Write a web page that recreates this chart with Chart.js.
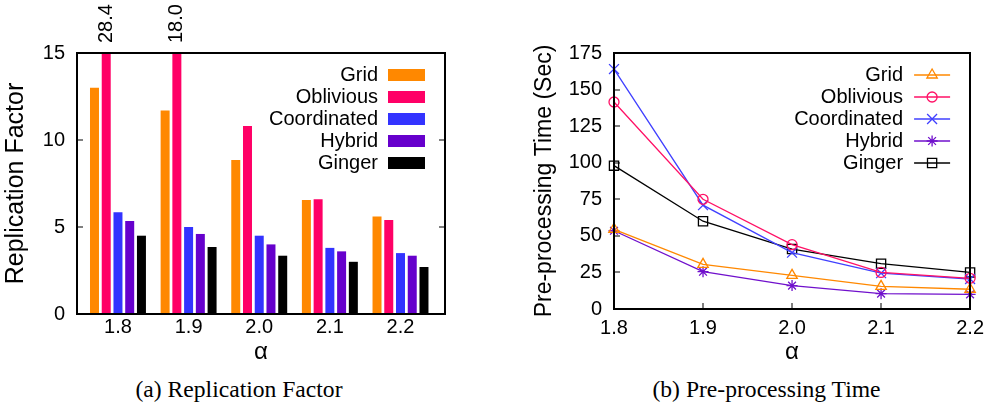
<!DOCTYPE html>
<html lang="en">
<head>
<meta charset="UTF-8">
<title>Replication Factor / Pre-processing Time</title>
<script src="https://cdn.jsdelivr.net/npm/chart.js"></script>
<style>
  body { margin: 0; background: #fff; }
  .wrap { position: relative; width: 991px; height: 405px; overflow: hidden; }
  #repChart { position: absolute; left: 0; top: 0; }
  #timeChart { position: absolute; left: 495px; top: 0; }
  .caption {
    position: absolute; top: 376.5px; white-space: nowrap;
    font: 23.6px/24px "Liberation Serif", "Times New Roman", serif;
    transform: translateX(-50%);
  }
  .plotbox {
    position: absolute; box-sizing: border-box; border: 2px solid #000;
    pointer-events: none;
  }
</style>
</head>
<body>
<div class="wrap" id="wrap">
  <canvas id="repChart" width="495" height="370"></canvas>
  <canvas id="timeChart" width="496" height="370"></canvas>
  <div class="caption" style="left:239px">(a) Replication Factor</div>
  <div class="caption" style="left:766.5px">(b) Pre-processing Time</div>
</div>

<script>
// ---- data ----
const alphas = [1.8, 1.9, 2.0, 2.1, 2.2];
const names = ['Grid', 'Oblivious', 'Coordinated', 'Hybrid', 'Ginger'];

// (a) replication factor
const repGrid        = [13.0, 11.7, 8.85, 6.55, 5.6];
const repOblivious   = [28.4, 18.0, 10.8, 6.6, 5.4];
const repCoordinated = [5.85, 5.0, 4.5, 3.8, 3.5];
const repHybrid      = [5.35, 4.6, 4.0, 3.6, 3.35];
const repGinger      = [4.5, 3.85, 3.35, 3.0, 2.7];
const repTicks = [0, 5, 10, 15];

// (b) pre-processing time (sec)
const timeGrid        = [54.5, 30.5, 23, 15.5, 13.5];
const timeOblivious   = [141.5, 75, 44, 25, 21];
const timeCoordinated = [164, 71, 38.5, 24.5, 20.5];
const timeHybrid      = [53.5, 25.5, 16, 10.5, 10];
const timeGinger      = [98, 60, 41, 31, 25];
const timeTicks = [0, 25, 50, 75, 100, 125, 150, 175];

// ---- styles ----
const barColors  = ['#ff8800', '#ff0066', '#3333ff', '#6600cc', '#000000'];
const lineColors = ['#ff8800', '#ff1166', '#4040ff', '#7010cc', '#000000'];
const markers    = ['triangle', 'circle', 'crossRot', 'star', 'rect'];
const markerSize = [6, 5, 7, 5.5, 6.5];

const FONT = '"Liberation Sans", Arial, sans-serif';
Chart.defaults.font.family = FONT;
Chart.defaults.color = '#000';

const noGrid = { display: false, drawTicks: false };

function toXY(vals) {
  return alphas.map((a, i) => ({ x: a, y: vals[i] }));
}
function fixTicks(list) {
  return function (s) { s.ticks = list.map(v => ({ value: v })); };
}

// box, inward ticks and gnuplot style key (text right aligned, sample on its right)
const keyBox = {
  id: 'keyBox',
  afterDraw(chart, args, opts) {
    const a = chart.chartArea, ctx = chart.ctx;
    ctx.save();

    // plot box + ticks
    const sx = chart.scales.x, sy = chart.scales.y;
    const L = Math.round(a.left), R = Math.round(a.right);
    const T = Math.round(a.top), B = Math.round(a.bottom);
    const w = 1.5;
    ctx.fillStyle = '#000';
    sy.ticks.forEach(t => {
      const p = Math.round(sy.getPixelForValue(t.value));
      ctx.fillRect(L, p - 0.5, 6, 1);
      if (opts.mirrorY) ctx.fillRect(R - 6, p - 0.5, 6, 1);
    });
    if (opts.xTicks) {
      sx.ticks.forEach(t => {
        const p = Math.round(sx.getPixelForValue(t.value));
        ctx.fillRect(p - 0.5, B - 6, 1, 6);
      });
    }
    ctx.fillRect(L - w / 2, T - w / 2, R - L + w, w);
    ctx.fillRect(L - w / 2, B - w / 2, R - L + w, w);
    ctx.fillRect(L - w / 2, T - w / 2, w, B - T + w);
    ctx.fillRect(R - w / 2, T - w / 2, w, B - T + w);

    // key
    ctx.font = '20px ' + FONT;
    ctx.textAlign = 'right';
    ctx.textBaseline = 'middle';
    chart.data.datasets.forEach((ds, i) => {
      const y = a.top + 22 + 22 * i;
      ctx.fillStyle = '#000';
      ctx.fillText(ds.label, a.right - 67, y);
      if (opts.kind === 'bar') {
        ctx.fillStyle = ds.backgroundColor;
        ctx.fillRect(a.right - 57, y - 6, 37, 12);
      } else {
        ctx.strokeStyle = ds.borderColor;
        ctx.lineWidth = ds.borderWidth;
        ctx.beginPath();
        ctx.moveTo(a.right - 56, y);
        ctx.lineTo(a.right - 20, y);
        ctx.stroke();
        ctx.fillStyle = 'rgba(0,0,0,0)';
        ctx.lineWidth = ds.pointBorderWidth;
        Chart.helpers.drawPoint(ctx, {
          pointStyle: ds.pointStyle, radius: ds.pointRadius,
          rotation: 0, borderWidth: ds.pointBorderWidth
        }, a.right - 38, y);
      }
    });
    ctx.restore();
  }
};

// value labels for bars cut at the top of the axis
const overLabels = {
  id: 'overLabels',
  afterDatasetsDraw(chart) {
    const ctx = chart.ctx, yMax = chart.scales.y.max, top = chart.chartArea.top;
    chart.data.datasets.forEach((ds, di) => {
      chart.getDatasetMeta(di).data.forEach((bar, i) => {
        const v = ds.data[i].y;
        if (v > yMax) {
          ctx.save();
          ctx.translate(bar.x, top - 10);
          ctx.rotate(-Math.PI / 2);
          ctx.font = '20px ' + FONT;
          ctx.fillStyle = '#000';
          ctx.textAlign = 'left';
          ctx.textBaseline = 'middle';
          ctx.fillText(v.toFixed(1), 0, 0);
          ctx.restore();
        }
      });
    });
  }
};

// html outline of the plot area, taken from the chart's own layout
function outline(chart, offsetX) {
  const a = chart.chartArea;
  const box = document.createElement('div');
  box.className = 'plotbox';
  box.style.left = (offsetX + Math.round(a.left) - 1) + 'px';
  box.style.top = (Math.round(a.top) - 1) + 'px';
  box.style.width = (Math.round(a.right) - Math.round(a.left) + 2) + 'px';
  box.style.height = (Math.round(a.bottom) - Math.round(a.top) + 2) + 'px';
  document.getElementById('wrap').appendChild(box);
}

// ---- (a) bar chart ----
const repSeries = [repGrid, repOblivious, repCoordinated, repHybrid, repGinger];
const repChart = new Chart(document.getElementById('repChart'), {
  type: 'bar',
  data: {
    datasets: repSeries.map((vals, i) => ({
      label: names[i],
      data: toXY(vals),
      backgroundColor: barColors[i],
      borderWidth: 0,
      clip: 0,
      categoryPercentage: 0.831,
      barPercentage: 0.766
    }))
  },
  options: {
    responsive: false,
    animation: false,
    layout: { padding: { top: 53, right: 50, left: 0, bottom: 0 } },
    plugins: {
      legend: { display: false }, tooltip: { enabled: false },
      keyBox: { kind: 'bar', mirrorY: true, xTicks: false }
    },
    scales: {
      x: {
        type: 'linear', min: 1.742, max: 2.263, offset: false,
        afterBuildTicks: fixTicks(alphas),
        afterFit: s => { s.height = 56; },
        ticks: { callback: v => v.toFixed(1), font: { size: 20 }, padding: 1, maxRotation: 0, autoSkip: false },
        grid: noGrid,
        border: { display: false },
        title: { display: true, text: 'α', font: { size: 24, lineHeight: 1 }, padding: { top: 0, bottom: 6 } }
      },
      y: {
        min: 0, max: 15,
        afterBuildTicks: fixTicks(repTicks),
        afterFit: s => { s.width = 77; },
        ticks: { font: { size: 20 }, padding: 12 },
        grid: noGrid,
        border: { display: false },
        title: { display: true, text: 'Replication Factor', font: { size: 25, lineHeight: 1 }, padding: { top: 3.5, bottom: 0 } }
      }
    }
  },
  plugins: [overLabels, keyBox]
});

// ---- (b) line chart ----
const timeSeries = [timeGrid, timeOblivious, timeCoordinated, timeHybrid, timeGinger];
const timeChart = new Chart(document.getElementById('timeChart'), {
  type: 'line',
  data: {
    datasets: timeSeries.map((vals, i) => ({
      label: names[i],
      data: toXY(vals),
      borderColor: lineColors[i],
      borderWidth: 1.3,
      pointStyle: markers[i],
      pointRadius: markerSize[i],
      pointBorderWidth: 1.3,
      pointBorderColor: lineColors[i],
      pointBackgroundColor: 'rgba(0,0,0,0)',
      tension: 0,
      clip: false
    }))
  },
  options: {
    responsive: false,
    animation: false,
    layout: { padding: { top: 53, right: 19, left: 0, bottom: 0 } },
    plugins: {
      legend: { display: false }, tooltip: { enabled: false },
      keyBox: { kind: 'line', mirrorY: false, xTicks: true }
    },
    scales: {
      x: {
        type: 'linear', min: 1.8, max: 2.2,
        afterBuildTicks: fixTicks(alphas),
        afterFit: s => { s.height = 61; },
        ticks: { callback: v => v.toFixed(1), font: { size: 20 }, padding: 7, maxRotation: 0, autoSkip: false },
        grid: noGrid,
        border: { display: false },
        title: { display: true, text: 'α', font: { size: 24, lineHeight: 1 }, padding: { top: 0, bottom: 6 } }
      },
      y: {
        min: 0, max: 175,
        afterBuildTicks: fixTicks(timeTicks),
        afterFit: s => { s.width = 119; },
        ticks: { font: { size: 20 }, padding: 12 },
        grid: noGrid,
        border: { display: false },
        title: { display: true, text: 'Pre-processing Time (Sec)', font: { size: 23, lineHeight: 1 }, padding: { top: 38.5, bottom: 0 } }
      }
    }
  },
  plugins: [keyBox]
});

outline(repChart, 0);
outline(timeChart, 495);
</script>
</body>
</html>
